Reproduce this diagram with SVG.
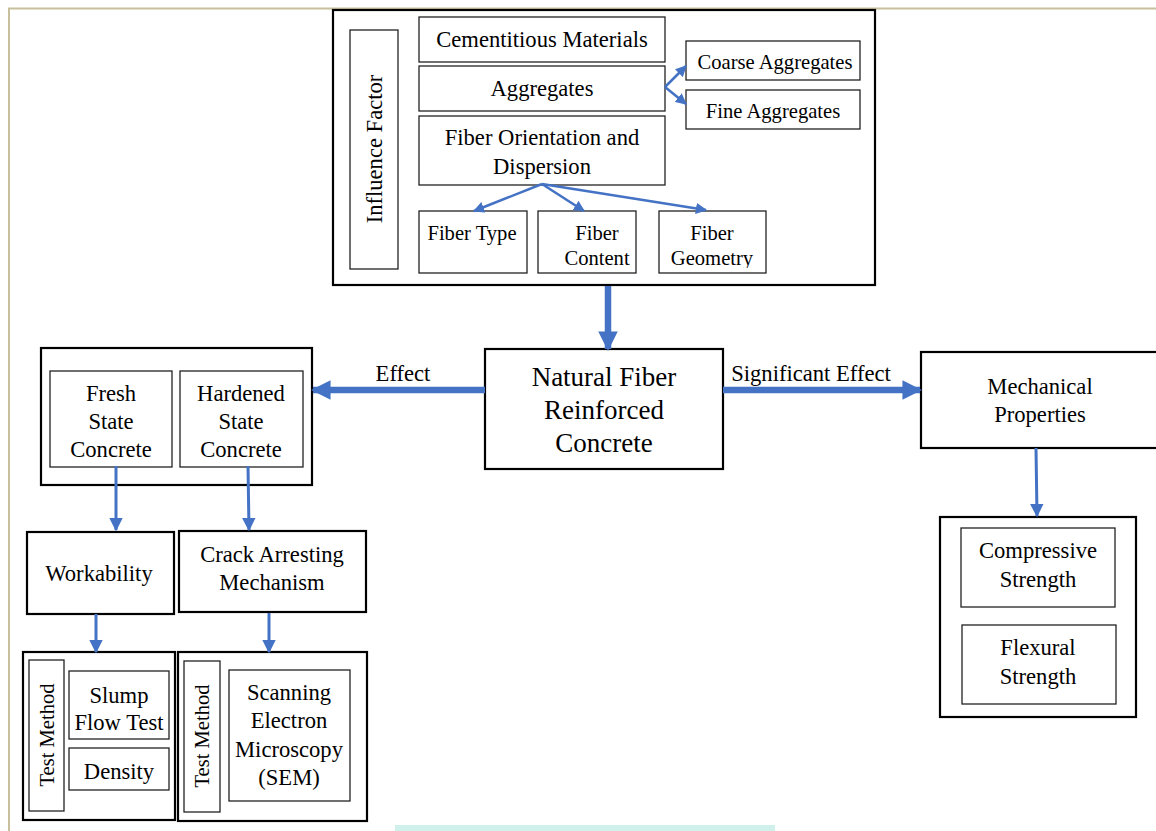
<svg xmlns="http://www.w3.org/2000/svg" width="1156" height="831" viewBox="0 0 1156 831">
<style>
.t{font-family:"Liberation Serif","Times New Roman",serif;fill:#000;text-anchor:middle}
.f20{font-size:22.6px}
.f18{font-size:20.6px}
.f17{font-size:20.6px}
.outer{fill:#fff;stroke:#000;stroke-width:2.2}
.inner{fill:#fff;stroke:#222;stroke-width:1.3}
.ln{stroke:#4472c4;fill:none}
</style>
<defs>
<marker id="ah" viewBox="0 0 10 10" refX="9" refY="5" markerWidth="4.5" markerHeight="4.5" orient="auto" markerUnits="strokeWidth"><path d="M0,0 L10,5 L0,10 z" fill="#4472c4"/></marker>
<marker id="ahb" viewBox="0 0 10 10" refX="9" refY="5" markerWidth="3" markerHeight="3.2" orient="auto" markerUnits="strokeWidth"><path d="M0,0 L10,5 L0,10 z" fill="#4472c4"/></marker>
<clipPath id="cg"><rect x="659" y="211" width="107" height="57"/></clipPath>
</defs>
<rect width="1156" height="831" fill="#fff"/>
<path d="M9,831 V8.5 H1156" fill="none" stroke="#c8c09c" stroke-width="2"/>
<rect x="395" y="825" width="380" height="6" fill="#d0f0ec"/>

<g id="influence">
<rect class="outer" x="333" y="10" width="542" height="275"/>
<rect class="inner" x="350" y="30" width="48" height="239"/>
<text class="t" font-size="22.6" transform="translate(382,149) rotate(-90)">Influence Factor</text>
</g>
<g id="cementitious"><rect class="inner" x="419" y="17" width="246" height="45"/><text class="t f20" x="542" y="47">Cementitious Materials</text></g>
<g id="aggregates"><rect class="inner" x="419" y="66" width="246" height="45"/><text class="t f20" x="542" y="96">Aggregates</text></g>
<g id="fiber-orientation"><rect class="inner" x="419" y="116" width="246" height="69"/><text class="t f20" x="542" y="145">Fiber Orientation and</text><text class="t f20" x="542" y="174">Dispersion</text></g>
<g id="coarse"><rect class="inner" x="686" y="41" width="174" height="39"/><text class="t f17" x="775" y="69">Coarse Aggregates</text></g>
<g id="fine"><rect class="inner" x="686" y="90" width="174" height="39"/><text class="t f17" x="773" y="118">Fine Aggregates</text></g>
<g id="fiber-type"><rect class="inner" x="419" y="211" width="108" height="62"/><text class="t f18" x="472" y="240">Fiber Type</text></g>
<g id="fiber-content"><rect class="inner" x="538" y="211" width="98" height="62"/><text class="t f18" x="597" y="240">Fiber</text><text class="t f18" x="597" y="265">Content</text></g>
<g id="fiber-geometry"><rect class="inner" x="659" y="211" width="107" height="62"/><text class="t f18" x="712" y="240">Fiber</text><text class="t f18" x="712" y="265" clip-path="url(#cg)">Geometry</text></g>

<g id="nfrc"><rect class="outer" x="485" y="349" width="238" height="120"/>
<text class="t" font-size="27" x="604" y="386">Natural Fiber</text>
<text class="t" font-size="27" x="604" y="419">Reinforced</text>
<text class="t" font-size="27" x="604" y="452">Concrete</text></g>

<g id="state"><rect class="outer" x="41" y="348" width="271" height="137"/>
<rect class="inner" x="50" y="371" width="122" height="96"/>
<text class="t f20" x="111" y="401">Fresh</text><text class="t f20" x="111" y="429">State</text><text class="t f20" x="111" y="457">Concrete</text>
<rect class="inner" x="180" y="371" width="123" height="96"/>
<text class="t f20" x="241" y="401">Hardened</text><text class="t f20" x="241" y="429">State</text><text class="t f20" x="241" y="457">Concrete</text></g>

<g id="mechanical"><rect class="outer" x="921" y="352" width="240" height="96"/>
<text class="t f20" x="1040" y="394">Mechanical</text><text class="t f20" x="1040" y="422">Properties</text></g>

<g id="strength"><rect class="outer" x="940" y="517" width="196" height="200"/>
<rect class="inner" x="961" y="528" width="154" height="79"/>
<text class="t f20" x="1038" y="558">Compressive</text><text class="t f20" x="1038" y="587">Strength</text>
<rect class="inner" x="962" y="625" width="154" height="79"/>
<text class="t f20" x="1038" y="655">Flexural</text><text class="t f20" x="1038" y="684">Strength</text></g>

<g id="workability"><rect class="outer" x="27" y="532" width="147" height="82"/><text class="t f20" x="99" y="581">Workability</text></g>
<g id="crack"><rect class="outer" x="179" y="531" width="187" height="81"/><text class="t f20" x="272" y="562">Crack Arresting</text><text class="t f20" x="272" y="590">Mechanism</text></g>

<g id="test-workability"><rect class="outer" x="23" y="652" width="152" height="168"/>
<rect class="inner" x="29" y="660" width="35" height="151"/>
<text class="t f18" transform="translate(54,735) rotate(-90)">Test Method</text>
<rect class="inner" x="69" y="671" width="100" height="68"/>
<text class="t f20" x="119" y="703">Slump</text><text class="t f20" x="119" y="730">Flow Test</text>
<rect class="inner" x="69" y="748" width="100" height="42"/>
<text class="t f20" x="119" y="779">Density</text></g>

<g id="test-crack"><rect class="outer" x="178" y="652" width="189" height="169"/>
<rect class="inner" x="184" y="661" width="36" height="151"/>
<text class="t f18" transform="translate(209,736) rotate(-90)">Test Method</text>
<rect class="inner" x="229" y="670" width="121" height="131"/>
<text class="t f20" x="289" y="700">Scanning</text><text class="t f20" x="289" y="728">Electron</text><text class="t f20" x="289" y="757">Microscopy</text><text class="t f20" x="289" y="785">(SEM)</text></g>

<g id="connectors">
<line class="ln" stroke-width="2.5" x1="665" y1="87" x2="686" y2="66" marker-end="url(#ah)"/>
<line class="ln" stroke-width="2.5" x1="665" y1="87" x2="686" y2="104" marker-end="url(#ah)"/>
<line class="ln" stroke-width="2.5" x1="542" y1="184" x2="474" y2="211" marker-end="url(#ah)"/>
<line class="ln" stroke-width="2.5" x1="542" y1="184" x2="584" y2="211" marker-end="url(#ah)"/>
<line class="ln" stroke-width="2.5" x1="542" y1="184" x2="706" y2="210" marker-end="url(#ah)"/>
<line class="ln" stroke-width="6.5" x1="608" y1="286" x2="608" y2="349" marker-end="url(#ahb)"/>
<line class="ln" stroke-width="6.5" x1="485" y1="390" x2="313" y2="390" marker-end="url(#ahb)"/>
<line class="ln" stroke-width="6.5" x1="723" y1="390" x2="920" y2="390" marker-end="url(#ahb)"/>
<line class="ln" stroke-width="3" x1="1036" y1="448" x2="1037" y2="516" marker-end="url(#ah)"/>
<line class="ln" stroke-width="3" x1="116" y1="466" x2="116" y2="530" marker-end="url(#ah)"/>
<line class="ln" stroke-width="3" x1="248" y1="466" x2="249" y2="530" marker-end="url(#ah)"/>
<line class="ln" stroke-width="3" x1="96" y1="614" x2="96" y2="652" marker-end="url(#ah)"/>
<line class="ln" stroke-width="3" x1="269" y1="613" x2="269" y2="652" marker-end="url(#ah)"/>
<text class="t f20" x="403" y="381">Effect</text>
<text class="t f20" x="811" y="381">Significant Effect</text>
</g>
</svg>
